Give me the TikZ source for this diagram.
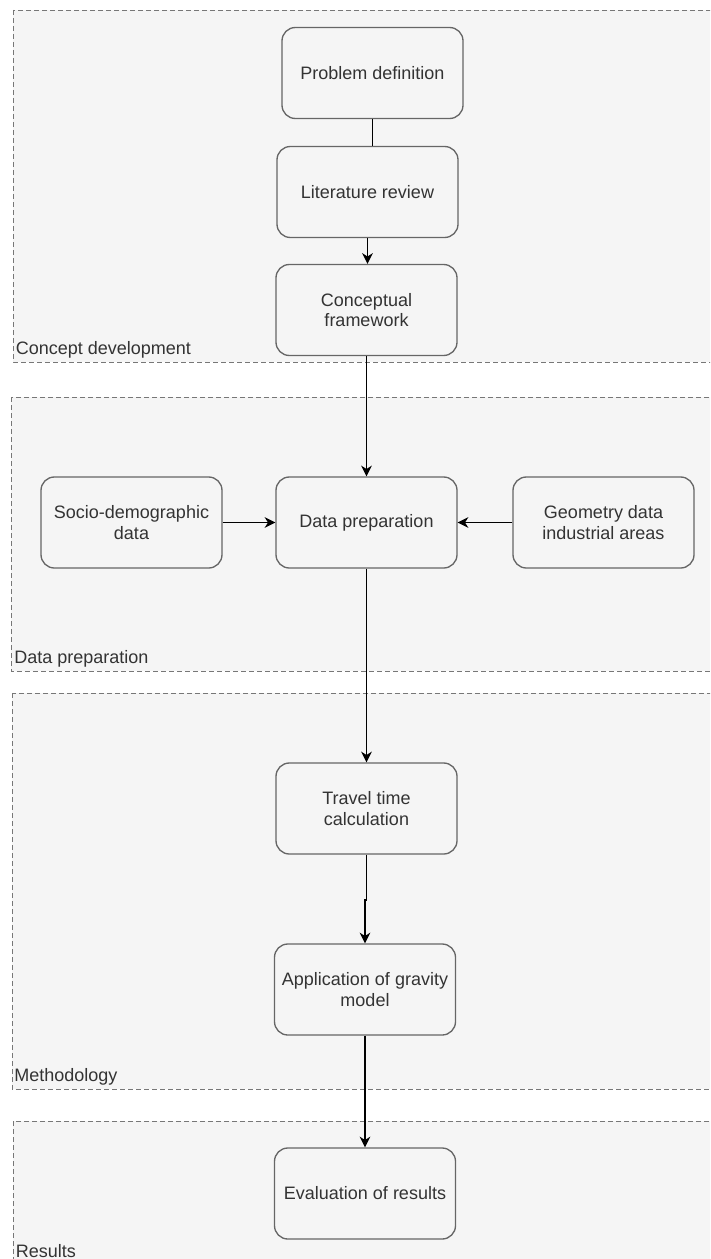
\documentclass[tikz,border=0pt]{standalone}
\usepackage{fontspec}
\setmainfont{Liberation Sans}
\usetikzlibrary{arrows.meta}
\definecolor{grpfill}{HTML}{F5F5F5}
\definecolor{grpline}{HTML}{777777}
\definecolor{boxline}{HTML}{666666}
\definecolor{txt}{HTML}{333333}
\tikzset{
  group/.style={draw=grpline, fill=grpfill, line width=0.7pt, dash pattern=on 3.4pt off 2.6pt},
  grouplabel/.style={anchor=base west, inner sep=0pt, text=txt, font=\fontsize{13.5}{15.5}\selectfont},
  stepbox/.style={draw=boxline, fill=grpfill, line width=1pt, rounded corners=10pt,
    minimum width=135.75pt, minimum height=68.25pt, inner sep=0pt, align=center,
    text=txt, font=\fontsize{13.5}{15.5}\selectfont},
  conn/.style={draw=black, line width=1.3pt, -{Stealth[length=8pt,width=8pt,inset=2.5pt]}},
  plainconn/.style={draw=black, line width=1.3pt}
}
\begin{document}
\begin{tikzpicture}[x=0.75pt, y=-0.75pt]
\useasboundingbox (0,0) rectangle (710,1259);
\clip (0,0) rectangle (710,1259);
\fill[white] (0,0) rectangle (710,1259);
% groups
\draw[group] (13,10) rectangle (730,362);
\draw[group] (11,397) rectangle (730,671);
\draw[group] (12,693) rectangle (730,1089);
\draw[group] (13,1121) rectangle (730,1268);
\node[grouplabel] (lg1) at (15.5,354) {Concept development};
\node[grouplabel] (lg2) at (14,663) {Data preparation};
\node[grouplabel] (lg3) at (14,1081) {Methodology};
\node[grouplabel] (lg4) at (15.5,1257) {Results};
% boxes
\node[stepbox] (prob) at (372.5,73) {Problem definition};
\node[stepbox] (lit) at (367.5,192) {Literature review};
\node[stepbox] (conc) at (366.5,310) {Conceptual\\framework};
\node[stepbox] (socio) at (131.5,522.5) {Socio-demographic\\data};
\node[stepbox] (dprep) at (366.5,522.5) {Data preparation};
\node[stepbox] (geom) at (603.5,522.5) {Geometry data\\industrial areas};
\node[stepbox] (trav) at (366.5,808.5) {Travel time\\calculation};
\node[stepbox] (appl) at (365,989.5) {Application of gravity\\model};
\node[stepbox] (eval) at (365,1193.5) {Evaluation of results};
% connectors
\draw[plainconn] (prob.south) -- (prob.south |- lit.north);
\draw[conn] (lit.south) -- (lit.south |- conc.north);
\draw[conn] (conc.south) -- (dprep.north);
\draw[conn] (socio.east) -- (dprep.west);
\draw[conn] (geom.west) -- (dprep.east);
\draw[conn] (dprep.south) -- (trav.north);
\draw[conn] (trav.south) -- ++(0,45) -| (appl.north);
\draw[conn] (appl.south) -- (eval.north);
\end{tikzpicture}
\end{document}
